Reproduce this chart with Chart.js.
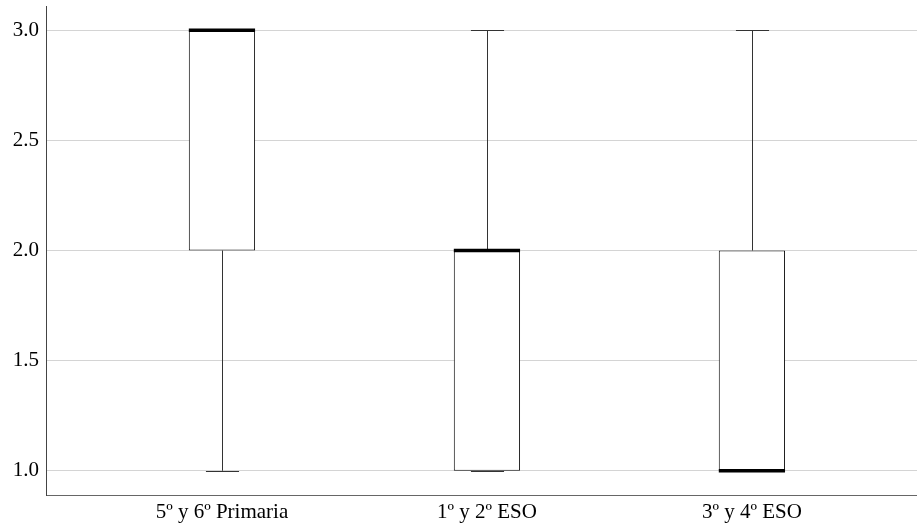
<!DOCTYPE html>
<html>
<head>
<meta charset="utf-8">
<title>Boxplot</title>
<script src="https://cdn.jsdelivr.net/npm/chart.js@4.4.1/dist/chart.umd.min.js"></script>
<style>
    html, body { margin: 0; padding: 0; background: #fff; }
</style>
</head>
<body>
<canvas id="box-chart" width="917" height="528"></canvas>
<script>
// Boxplot data
var categories = ["5º y 6º Primaria", "1º y 2º ESO", "3º y 4º ESO"];
var minValues = [1, 1, 1];
var q1Values = [2, 1, 1];
var medianValues = [3, 2, 1];
var q3Values = [3, 2, 2];
var maxValues = [3, 3, 3];
var yTicks = [1.0, 1.5, 2.0, 2.5, 3.0];

// Boxes as floating bars
var boxData = categories.map(function (c, i) {
    return { x: i + 1, y: [q1Values[i], q3Values[i]] };
});

// Whiskers + median drawn through the chart scales
var boxplotLines = {
    id: "boxplotLines",
    beforeDatasetsDraw: function (chart) {
        var ctx = chart.ctx;
        var xs = chart.scales.x;
        var ys = chart.scales.y;
        var meta = chart.getDatasetMeta(0);
        ctx.save();
        ctx.strokeStyle = "#333";
        ctx.lineWidth = 1;
        categories.forEach(function (c, i) {
            var x = Math.round(xs.getPixelForValue(i + 1)) + 0.5;
            var half = meta.data[i].width / 4;
            // upper whisker
            ctx.beginPath();
            ctx.moveTo(x, ys.getPixelForValue(q3Values[i]));
            ctx.lineTo(x, ys.getPixelForValue(maxValues[i]));
            ctx.stroke();
            // lower whisker
            ctx.beginPath();
            ctx.moveTo(x, ys.getPixelForValue(q1Values[i]));
            ctx.lineTo(x, ys.getPixelForValue(minValues[i]));
            ctx.stroke();
            // caps
            [minValues[i], maxValues[i]].forEach(function (v) {
                var y = Math.round(ys.getPixelForValue(v)) + 0.5;
                ctx.beginPath();
                ctx.moveTo(x - half, y);
                ctx.lineTo(x + half, y);
                ctx.stroke();
            });
        });
        ctx.restore();
    },
    afterDatasetsDraw: function (chart) {
        var ctx = chart.ctx;
        var xs = chart.scales.x;
        var ys = chart.scales.y;
        var meta = chart.getDatasetMeta(0);
        ctx.save();
        ctx.strokeStyle = "#000";
        ctx.lineWidth = 3.5;
        categories.forEach(function (c, i) {
            var x = xs.getPixelForValue(i + 1);
            var half = meta.data[i].width / 2;
            var y = ys.getPixelForValue(medianValues[i]);
            ctx.beginPath();
            ctx.moveTo(x - half, y);
            ctx.lineTo(x + half, y);
            ctx.stroke();
        });
        ctx.restore();
    }
};

// Chart Options
var chartOptions = {
    responsive: false,
    animation: false,
    layout: { padding: { top: 6, right: 0, left: 0, bottom: 0 } },
    plugins: {
        legend: { display: false },
        tooltip: { enabled: false }
    },
    scales: {
        x: {
            type: "linear",
            offset: false,
            min: 0.336,
            max: 3.623,
            afterBuildTicks: function (scale) {
                scale.ticks = categories.map(function (c, i) { return { value: i + 1 }; });
            },
            afterFit: function (scale) {
                scale.height = 33;
                scale.paddingLeft = 0;
                scale.paddingRight = 0;
            },
            grid: { display: false, drawTicks: false },
            border: { display: true, color: "#666", width: 1 },
            ticks: {
                autoSkip: false,
                maxRotation: 0,
                padding: 5,
                color: "#000",
                font: { family: "'Liberation Serif', 'Times New Roman', serif", size: 21 },
                callback: function (v) { return categories[v - 1]; }
            }
        },
        y: {
            min: 0.89,
            max: 3.11,
            afterBuildTicks: function (scale) {
                scale.ticks = yTicks.map(function (v) { return { value: v }; });
            },
            afterFit: function (scale) {
                scale.width = 46;
                scale.paddingTop = 0;
                scale.paddingBottom = 0;
            },
            grid: { color: "#d4d4d4", lineWidth: 1, drawTicks: false },
            border: { display: true, color: "#444", width: 1 },
            ticks: {
                padding: 7,
                color: "#000",
                font: { family: "'Liberation Serif', 'Times New Roman', serif", size: 21 },
                callback: function (v) { return v.toFixed(1); }
            }
        }
    }
};

// Chart Data
var chartData = {
    datasets: [{
        type: "bar",
        data: boxData,
        backgroundColor: "#ffffff",
        borderColor: "#111111",
        borderWidth: 1,
        borderSkipped: false,
        barPercentage: 0.25,
        categoryPercentage: 1.0
    }]
};

var config = {
    type: "bar",
    options: chartOptions,
    data: chartData,
    plugins: [boxplotLines]
};

// Create the chart
var ctx = document.getElementById("box-chart");
var boxChart = new Chart(ctx, config);
</script>
</body>
</html>
